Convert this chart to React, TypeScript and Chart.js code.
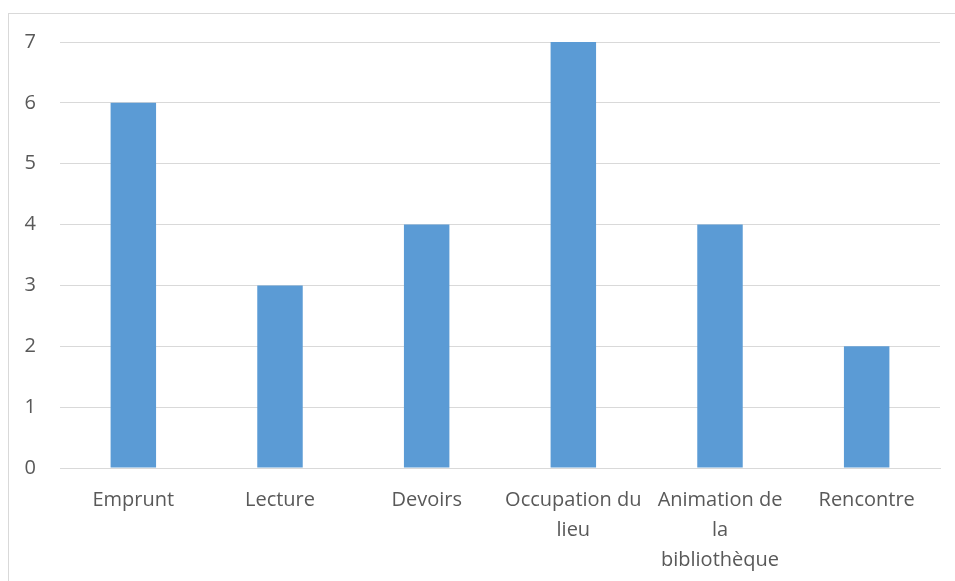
import React, { useEffect, useRef } from "react";
import { Chart, registerables } from "chart.js";

Chart.register(...registerables);

const categories: string[][] = [
  ["Emprunt"],
  ["Lecture"],
  ["Devoirs"],
  ["Occupation du", "lieu"],
  ["Animation de", "la", "bibliothèque"],
  ["Rencontre"],
];
const values: number[] = [6, 3, 4, 7, 4, 2];
const yTicks: number[] = [0, 1, 2, 3, 4, 5, 6, 7];

const FONT = "'Open Sans', 'Liberation Sans', sans-serif";
const TEXT = "#595959";
const GRID = "#d9d9d9";

export default function App() {
  const ref = useRef<HTMLCanvasElement | null>(null);

  useEffect(() => {
    if (!ref.current) return;
    const chart = new Chart(ref.current, {
      type: "bar",
      data: {
        labels: categories,
        datasets: [
          {
            data: values,
            backgroundColor: "#5B9BD5",
            borderWidth: 0,
            categoryPercentage: 1,
            barPercentage: 0.31,
          },
        ],
      },
      options: {
        animation: false,
        responsive: false,
        maintainAspectRatio: false,
        layout: { padding: { left: 0, right: 15, top: 42, bottom: 0 } },
        plugins: { legend: { display: false }, tooltip: { enabled: false } },
        scales: {
          x: {
            grid: { display: false, drawTicks: false },
            border: { display: true, color: GRID, width: 1 },
            ticks: {
              color: TEXT,
              font: { family: FONT, size: 20, lineHeight: 1.5 },
              padding: 17,
              maxRotation: 0,
              autoSkip: false,
            },
            afterFit: (s: any) => {
              s.height = 113;
            },
          },
          y: {
            min: 0,
            max: 7,
            afterBuildTicks: (s: any) => {
              s.ticks = yTicks.map((v) => ({ value: v }));
            },
            grid: { color: GRID, lineWidth: 1, drawTicks: false },
            border: { display: false },
            ticks: {
              color: TEXT,
              font: { family: FONT, size: 20 },
              padding: 24,
            },
            afterFit: (s: any) => {
              s.width = 60;
            },
          },
        },
      },
    });
    return () => chart.destroy();
  }, []);

  return (
    <div style={{ position: "fixed", left: 0, top: 0, width: 955, height: 581, background: "#fff" }}>
      <div
        style={{
          position: "absolute",
          left: 8,
          top: 13,
          width: 960,
          height: 600,
          borderTop: `1px solid ${GRID}`,
          borderLeft: `1px solid ${GRID}`,
        }}
      />
      <canvas ref={ref} width={955} height={581} style={{ position: "absolute", left: 0, top: 0 }} />
    </div>
  );
}
